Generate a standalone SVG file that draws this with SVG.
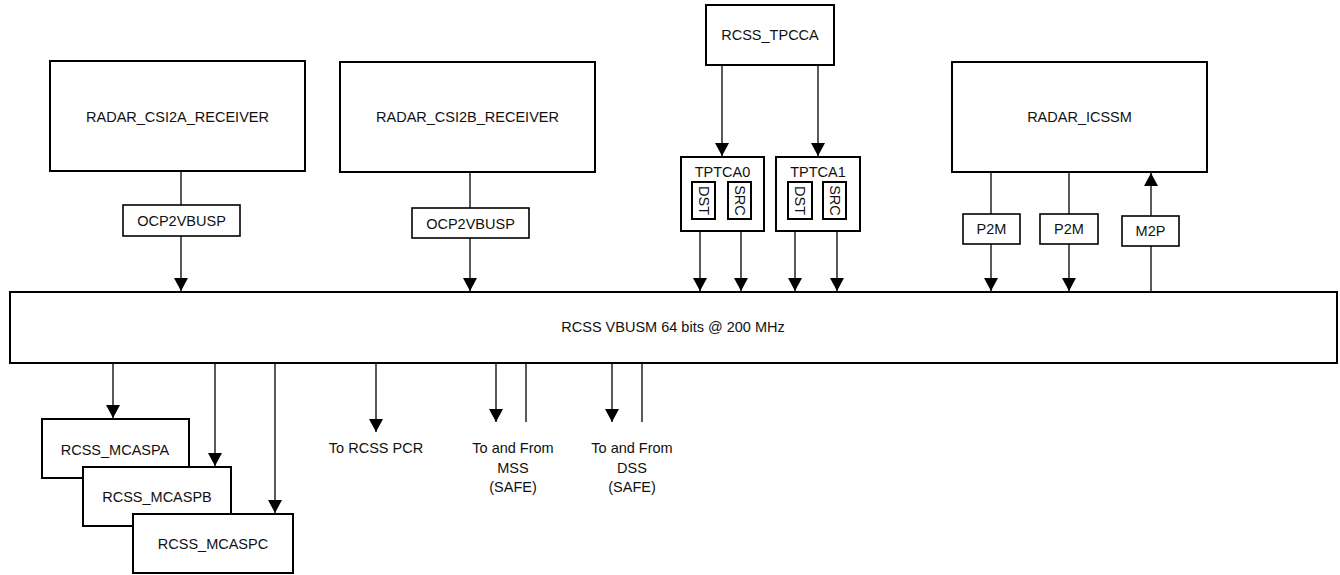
<svg xmlns="http://www.w3.org/2000/svg" width="1340" height="575" viewBox="0 0 1340 575">
<style>
.box{fill:#fff;stroke:#000;stroke-width:2}
.sbox{fill:#fff;stroke:#000;stroke-width:1.6}
.ln{fill:none;stroke:#000;stroke-width:1.3}
.ar{fill:none;stroke:#000;stroke-width:1.3;marker-end:url(#ah)}
text{font-family:"Liberation Sans",Arial,sans-serif;font-size:14.5px;fill:#111;text-anchor:middle;dominant-baseline:central}
</style>
<defs>
<marker id="ah" markerUnits="userSpaceOnUse" markerWidth="14" markerHeight="14" viewBox="0 0 14 14" refX="13" refY="7" orient="auto">
<path d="M0,0 L13,7 L0,14 Z" fill="#000"/>
</marker>
</defs>
<g id="connectors">
<line class="ln" x1="181" y1="171" x2="181" y2="205"/>
<line class="ar" x1="181" y1="236" x2="181" y2="291"/>
<line class="ln" x1="470" y1="172" x2="470" y2="208"/>
<line class="ar" x1="470" y1="238" x2="470" y2="291"/>
<line class="ar" x1="722" y1="65" x2="722" y2="156"/>
<line class="ar" x1="818" y1="65" x2="818" y2="156"/>
<line class="ar" x1="700" y1="231" x2="700" y2="291"/>
<line class="ar" x1="741" y1="231" x2="741" y2="291"/>
<line class="ar" x1="795" y1="231" x2="795" y2="291"/>
<line class="ar" x1="837" y1="231" x2="837" y2="291"/>
<line class="ln" x1="991" y1="172" x2="991" y2="214"/>
<line class="ar" x1="991" y1="244" x2="991" y2="291"/>
<line class="ln" x1="1069" y1="172" x2="1069" y2="214"/>
<line class="ar" x1="1069" y1="244" x2="1069" y2="291"/>
<line class="ln" x1="1151" y1="293" x2="1151" y2="246"/>
<line class="ar" x1="1151" y1="216" x2="1151" y2="173"/>
<line class="ar" x1="113" y1="363" x2="113" y2="418"/>
<line class="ar" x1="215" y1="363" x2="215" y2="466"/>
<line class="ar" x1="275" y1="363" x2="275" y2="513"/>
<line class="ar" x1="376" y1="363" x2="376" y2="432"/>
<line class="ar" x1="496" y1="363" x2="496" y2="422"/>
<line class="ln" x1="526" y1="363" x2="526" y2="422"/>
<line class="ar" x1="612" y1="363" x2="612" y2="422"/>
<line class="ln" x1="642" y1="363" x2="642" y2="422"/>
</g>
<g id="csi2a">
<rect class="box" x="50" y="61" width="255" height="110"/>
<text x="177.5" y="117">RADAR_CSI2A_RECEIVER</text>
</g>
<g id="ocp2vbusp-a">
<rect class="sbox" x="123" y="205" width="117" height="31"/>
<text x="181.5" y="221">OCP2VBUSP</text>
</g>
<g id="csi2b">
<rect class="box" x="340" y="62" width="255" height="110"/>
<text x="467.5" y="117">RADAR_CSI2B_RECEIVER</text>
</g>
<g id="ocp2vbusp-b">
<rect class="sbox" x="412" y="208" width="117" height="30"/>
<text x="470.5" y="223.5">OCP2VBUSP</text>
</g>
<g id="tpcca">
<rect class="box" x="706" y="5" width="128" height="60"/>
<text x="770" y="35">RCSS_TPCCA</text>
</g>
<g id="tptca0">
<rect class="box" x="681" y="157" width="83" height="74"/>
<text x="722.5" y="172">TPTCA0</text>
<rect class="box" x="692" y="182" width="23" height="37"/>
<text transform="translate(703.5,200.5) rotate(90)" x="0" y="0">DST</text>
<rect class="box" x="728" y="182" width="23" height="37"/>
<text transform="translate(739.5,200.5) rotate(90)" x="0" y="0">SRC</text>
</g>
<g id="tptca1">
<rect class="box" x="776" y="157" width="84" height="74"/>
<text x="818" y="172">TPTCA1</text>
<rect class="box" x="788" y="182" width="24" height="37"/>
<text transform="translate(800,200.5) rotate(90)" x="0" y="0">DST</text>
<rect class="box" x="823" y="182" width="23" height="37"/>
<text transform="translate(834.5,200.5) rotate(90)" x="0" y="0">SRC</text>
</g>
<g id="icssm">
<rect class="box" x="952" y="62" width="255" height="110"/>
<text x="1079.5" y="117">RADAR_ICSSM</text>
</g>
<g id="p2m-1">
<rect class="sbox" x="963" y="214" width="57" height="30"/>
<text x="991.5" y="229">P2M</text>
</g>
<g id="p2m-2">
<rect class="sbox" x="1040" y="214" width="58" height="30"/>
<text x="1069" y="229">P2M</text>
</g>
<g id="m2p">
<rect class="sbox" x="1122" y="216" width="57" height="30"/>
<text x="1150.5" y="231">M2P</text>
</g>
<g id="bus">
<rect class="box" x="10" y="292" width="1327" height="71"/>
<text x="673" y="327">RCSS VBUSM 64 bits @ 200 MHz</text>
</g>
<g id="mcaspa">
<rect class="box" x="42" y="419" width="147" height="59"/>
<text x="115" y="450">RCSS_MCASPA</text>
</g>
<g id="mcaspb">
<rect class="box" x="83" y="467" width="148" height="59"/>
<text x="157" y="497">RCSS_MCASPB</text>
</g>
<g id="mcaspc">
<rect class="box" x="133" y="514" width="160" height="59"/>
<text x="213" y="544">RCSS_MCASPC</text>
</g>
<g id="pcr">
<text x="376" y="448">To RCSS PCR</text>
</g>
<g id="mss">
<text x="513" y="448">To and From</text>
<text x="513" y="468">MSS</text>
<text x="513" y="487">(SAFE)</text>
</g>
<g id="dss">
<text x="632" y="448">To and From</text>
<text x="632" y="468">DSS</text>
<text x="632" y="487">(SAFE)</text>
</g>
</svg>
